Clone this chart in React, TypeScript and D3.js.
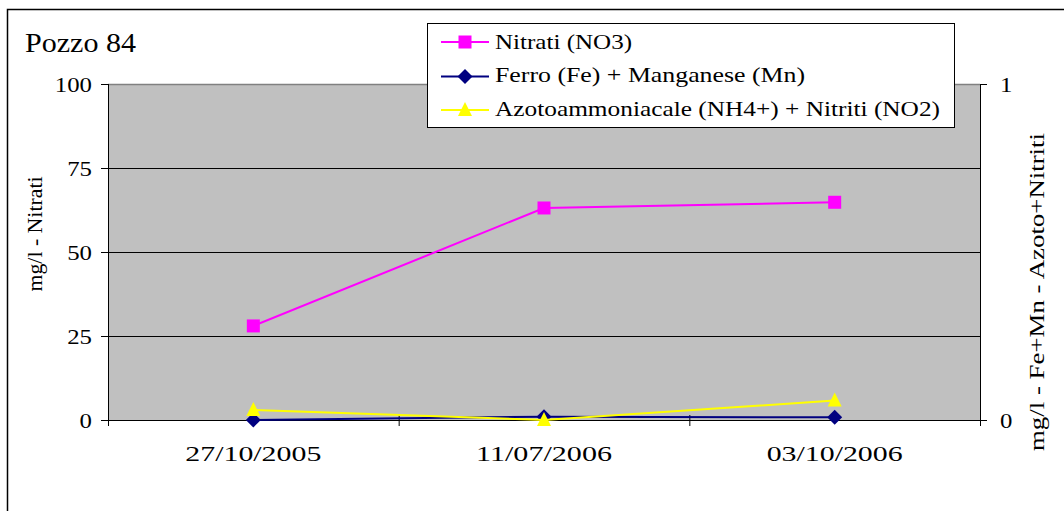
import React from "react";
import * as d3 from "d3";

const categories = ["27/10/2005", "11/07/2006", "03/10/2006"];
const nitrati = [28, 63.1, 64.8];
const ferroManganese = [0, 0.01, 0.008];
const azotoNitriti = [0.03, 0, 0.058];
const leftTicks = [0, 25, 50, 75, 100];
const rightTicks = [0, 1];
const seriesNames = ["Nitrati (NO3)", "Ferro (Fe) + Manganese (Mn)", "Azotoammoniacale (NH4+) + Nitriti (NO2)"];
const legendWidths = [137, 310, 445];

const W = 1064, H = 511;
const L = 108, R = 980, T = 84, B = 420;
const FONT = "'Liberation Serif', 'DejaVu Serif', serif";

function Marker({ kind, x, y }: { kind: string; x: number; y: number }) {
  if (kind === "square") return <rect x={x - 6.5} y={y - 6.5} width={13} height={13} fill="#FF00FF" />;
  if (kind === "diamond") return <path d={`M${x},${y - 7.5}L${x + 7.5},${y}L${x},${y + 7.5}L${x - 7.5},${y}Z`} fill="#000080" />;
  return <path d={`M${x},${y - 8}L${x + 7},${y + 6}L${x - 7},${y + 6}Z`} fill="#FFFF00" />;
}

export default function App() {
  const x = d3.scaleBand().domain(categories).range([L, R]);
  const yL = d3.scaleLinear().domain([0, 100]).range([B, T]);
  const yR = d3.scaleLinear().domain([0, 1]).range([B, T]);
  const cx = (c: string) => (x(c) as number) + x.bandwidth() / 2;
  const mk = (vals: number[], sc: d3.ScaleLinear<number, number>) =>
    d3.line<number>().x((_, i) => cx(categories[i])).y((v) => sc(v))(vals) as string;

  const series = [
    { vals: nitrati, sc: yL, color: "#FF00FF", kind: "square" },
    { vals: ferroManganese, sc: yR, color: "#000080", kind: "diamond" },
    { vals: azotoNitriti, sc: yR, color: "#FFFF00", kind: "triangle" },
  ];
  const bounds = categories.map((c) => x(c) as number).concat([R]);
  const legLine = [42, 76.5, 110];
  const legBase = [48.5, 82, 115.5];

  return (
    <svg width={W} height={H} style={{ position: "absolute", left: 0, top: 0, fontFamily: FONT }} fill="#000">
      <rect x={0} y={0} width={W} height={H} fill="#fff" />
      <rect x={7.5} y={9.5} width={W + 20} height={H + 20} fill="none" stroke="#000" strokeWidth={1.5} />
      <rect x={L} y={T} width={R - L} height={B - T} fill="#C0C0C0" />
      <line x1={L} x2={R} y1={T + 0.5} y2={T + 0.5} stroke="#808080" strokeWidth={1.5} />
      {leftTicks.filter((t) => t > 0 && t < 100).map((t) => (
        <line key={t} x1={L} x2={R} y1={yL(t) + 0.5} y2={yL(t) + 0.5} stroke="#000" strokeWidth={1} />
      ))}
      <line x1={L + 0.5} x2={L + 0.5} y1={T} y2={B} stroke="#000" strokeWidth={1} />
      <line x1={R + 0.5} x2={R + 0.5} y1={T} y2={B} stroke="#000" strokeWidth={1} />
      <line x1={L} x2={R} y1={B + 0.5} y2={B + 0.5} stroke="#000" strokeWidth={1} />
      {leftTicks.map((t) => (
        <g key={t}>
          <line x1={L - 7} x2={L} y1={yL(t) + 0.5} y2={yL(t) + 0.5} stroke="#000" />
          <text x={92} y={yL(t) + 7.5} textAnchor="end" fontSize={22}
            textLength={String(t).length * 12.4} lengthAdjust="spacingAndGlyphs">{t}</text>
        </g>
      ))}
      {rightTicks.map((t) => (
        <g key={t}>
          <line x1={R} x2={R + 7} y1={yR(t) + 0.5} y2={yR(t) + 0.5} stroke="#000" />
          <text x={1000} y={yR(t) + 7.5} textAnchor="start" fontSize={22}
            textLength={String(t).length * 12.4} lengthAdjust="spacingAndGlyphs">{t}</text>
        </g>
      ))}
      {bounds.map((b, i) => (
        <line key={i} x1={b + 0.5} x2={b + 0.5} y1={B - 5} y2={B + 6} stroke="#000" />
      ))}
      {categories.map((c) => (
        <text key={c} x={cx(c)} y={461} textAnchor="middle" fontSize={22}
          textLength={136} lengthAdjust="spacingAndGlyphs">{c}</text>
      ))}
      <text x={25} y={52} fontSize={28} textLength={111} lengthAdjust="spacingAndGlyphs">Pozzo 84</text>
      <text transform={`translate(42,234) rotate(-90)`} textAnchor="middle" fontSize={20}
        textLength={115} lengthAdjust="spacingAndGlyphs">mg/l - Nitrati</text>
      <text transform={`translate(1044,292) rotate(-90)`} textAnchor="middle" fontSize={20}
        textLength={318} lengthAdjust="spacingAndGlyphs">mg/l - Fe+Mn - Azoto+Nitriti</text>
      {series.map((s, si) => (
        <g key={si}>
          <path d={mk(s.vals, s.sc)} fill="none" stroke={s.color} strokeWidth={2} />
          {s.vals.map((v, i) => (
            <Marker key={i} kind={s.kind} x={cx(categories[i])} y={s.sc(v)} />
          ))}
        </g>
      ))}
      <rect x={427.5} y={23.5} width={527} height={104} fill="#fff" stroke="#000" strokeWidth={1} />
      {series.map((s, si) => (
        <g key={si}>
          <line x1={441} x2={489} y1={legLine[si]} y2={legLine[si]} stroke={s.color} strokeWidth={2} />
          <Marker kind={s.kind} x={465} y={legLine[si]} />
          <text x={495} y={legBase[si]} fontSize={22} textLength={legendWidths[si]}
            lengthAdjust="spacingAndGlyphs">{seriesNames[si]}</text>
        </g>
      ))}
    </svg>
  );
}
